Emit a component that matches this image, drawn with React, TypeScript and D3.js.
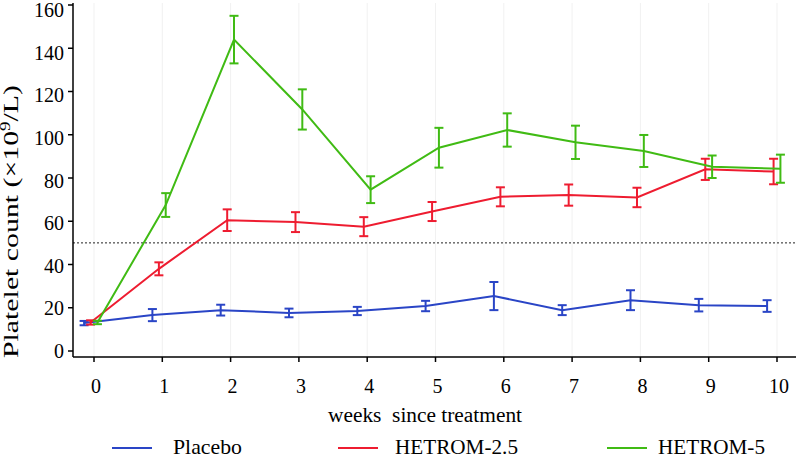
import React, { useEffect, useRef } from 'react';
import * as d3 from 'd3';

const weeks = [0, 1, 2, 3, 4, 5, 6, 7, 8, 9, 10];
const yTicks = [0, 20, 40, 60, 80, 100, 120, 140, 160];
const seriesNames = ['Placebo', 'HETROM-2.5', 'HETROM-5'];
const seriesColors = ['#2a45c6', '#ee1c30', '#40bb14'];
const seriesOffsets = [-0.145, -0.05, 0.05];

const placeboMean = [12.9, 16.6, 18.9, 17.6, 18.5, 20.8, 25.4, 18.9, 23.5, 21.2, 20.8];
const placeboErr = [1.0, 2.8, 2.5, 2.0, 1.9, 2.4, 6.5, 2.3, 4.6, 2.9, 2.7];
const hetrom25Mean = [13.2, 38.0, 60.5, 59.6, 57.5, 64.5, 71.3, 72.1, 71.0, 84.0, 83.0];
const hetrom25Err = [1.0, 3.0, 5.0, 4.6, 4.4, 4.4, 4.4, 4.9, 4.5, 4.9, 5.9];
const hetrom5Mean = [13.2, 67.5, 144.0, 111.7, 74.6, 94.0, 102.2, 96.5, 92.5, 85.2, 84.3];
const hetrom5Err = [0.8, 5.5, 11.0, 9.3, 6.2, 9.2, 7.7, 7.7, 7.4, 5.2, 6.5];
const threshold = 50;

export default function App() {
  const svgRef = useRef<SVGSVGElement>(null);

  useEffect(() => {
    if (!svgRef.current) return;
    const width = 796;
    const height = 455;
    const svg = d3.select(svgRef.current);
    svg.selectAll('*').remove();
    svg.attr('width', width).attr('height', height);

    const x = d3.scaleLinear().domain([0, 10]).range([94, 777]);
    const y = d3.scaleLinear().domain([0, 160]).range([351, 5]);
    // tick label baselines sit on a slightly tighter spacing than the ticks
    const yLabel = d3.scaleLinear().domain([0, 160]).range([358, 17]);
    const axisLeftX = 73;
    const axisBottomY = 357;
    const font = '"Liberation Serif", "Times New Roman", serif';

    // faint vertical grid
    svg.append('g')
      .selectAll('line')
      .data(weeks)
      .join('line')
      .attr('x1', d => x(d)).attr('x2', d => x(d))
      .attr('y1', 3).attr('y2', axisBottomY)
      .attr('stroke', '#f1f1f1')
      .attr('stroke-width', 1);

    // threshold line
    svg.append('line')
      .attr('x1', axisLeftX).attr('x2', width)
      .attr('y1', y(threshold)).attr('y2', y(threshold))
      .attr('stroke', '#222')
      .attr('stroke-width', 1)
      .attr('stroke-dasharray', '2,2');

    // series
    const means = [placeboMean, hetrom25Mean, hetrom5Mean];
    const errs = [placeboErr, hetrom25Err, hetrom5Err];

    means.forEach((m, s) => {
      const off = seriesOffsets[s];
      const color = seriesColors[s];
      const pts = weeks.map((w, i) => ({ w: w + off, v: m[i], e: errs[s][i] }));
      const g = svg.append('g');

      const line = d3.line<{ w: number; v: number }>()
        .x(d => x(d.w))
        .y(d => y(d.v));

      g.append('path')
        .datum(pts)
        .attr('fill', 'none')
        .attr('stroke', color)
        .attr('stroke-width', 2)
        .attr('d', line);

      const eb = g.selectAll('g.eb').data(pts).join('g').attr('class', 'eb')
        .attr('stroke', color).attr('stroke-width', 2);
      eb.append('line')
        .attr('x1', d => x(d.w)).attr('x2', d => x(d.w))
        .attr('y1', d => y(d.v - d.e)).attr('y2', d => y(d.v + d.e));
      eb.append('line')
        .attr('x1', d => x(d.w) - 4.5).attr('x2', d => x(d.w) + 4.5)
        .attr('y1', d => y(d.v + d.e)).attr('y2', d => y(d.v + d.e));
      eb.append('line')
        .attr('x1', d => x(d.w) - 4.5).attr('x2', d => x(d.w) + 4.5)
        .attr('y1', d => y(d.v - d.e)).attr('y2', d => y(d.v - d.e));
    });

    // axes
    const axes = svg.append('g').attr('stroke', '#000').attr('stroke-width', 1.5);
    axes.append('line')
      .attr('x1', axisLeftX).attr('x2', axisLeftX)
      .attr('y1', 3).attr('y2', axisBottomY);
    axes.append('line')
      .attr('x1', axisLeftX).attr('x2', width)
      .attr('y1', axisBottomY).attr('y2', axisBottomY);
    axes.selectAll('line.yt').data(yTicks).join('line').attr('class', 'yt')
      .attr('x1', axisLeftX - 5).attr('x2', axisLeftX)
      .attr('y1', d => y(d)).attr('y2', d => y(d));
    axes.selectAll('line.xt').data(weeks).join('line').attr('class', 'xt')
      .attr('x1', d => x(d)).attr('x2', d => x(d))
      .attr('y1', axisBottomY).attr('y2', axisBottomY + 5);

    svg.append('g')
      .selectAll('text')
      .data(yTicks)
      .join('text')
      .attr('x', 64)
      .attr('y', d => yLabel(d))
      .attr('text-anchor', 'end')
      .attr('font-family', font)
      .attr('font-size', 20)
      .text(d => d);

    svg.append('g')
      .selectAll('text')
      .data(weeks)
      .join('text')
      .attr('x', d => x(d) + 2)
      .attr('y', 393)
      .attr('text-anchor', 'middle')
      .attr('font-family', font)
      .attr('font-size', 20)
      .text(d => d);

    svg.append('text')
      .attr('x', 328)
      .attr('y', 422)
      .attr('font-family', font)
      .attr('font-size', 20)
      .attr('textLength', 194)
      .attr('lengthAdjust', 'spacingAndGlyphs')
      .style('white-space', 'pre')
      .text('weeks  since treatment');

    const yl = svg.append('text')
      .attr('transform', `translate(18,358) rotate(-90)`)
      .attr('font-family', font)
      .attr('font-size', 22)
      .attr('textLength', 273)
      .attr('lengthAdjust', 'spacingAndGlyphs');
    yl.append('tspan').text('Platelet count (×10');
    yl.append('tspan').attr('font-size', 14).attr('dy', -8).text('9');
    yl.append('tspan').attr('dy', 8).text('/L)');

    // legend
    const legendX = [112, 338, 607];
    const legendTextX = [173, 395, 658];
    const legendTextW = [69, 123, 107];
    const lg = svg.append('g')
      .selectAll('g')
      .data(seriesNames)
      .join('g');
    lg.append('line')
      .attr('x1', (d, i) => legendX[i]).attr('x2', (d, i) => legendX[i] + 40)
      .attr('y1', 448).attr('y2', 448)
      .attr('stroke', (d, i) => seriesColors[i])
      .attr('stroke-width', 2);
    lg.append('text')
      .attr('x', (d, i) => legendTextX[i])
      .attr('y', 454)
      .attr('font-family', font)
      .attr('font-size', 22)
      .attr('textLength', (d, i) => legendTextW[i])
      .attr('lengthAdjust', 'spacingAndGlyphs')
      .text(d => d);
  }, []);

  return (
    <div style={{ position: 'absolute', left: 0, top: 0 }}>
      <svg ref={svgRef} style={{ display: 'block' }} />
    </div>
  );
}
